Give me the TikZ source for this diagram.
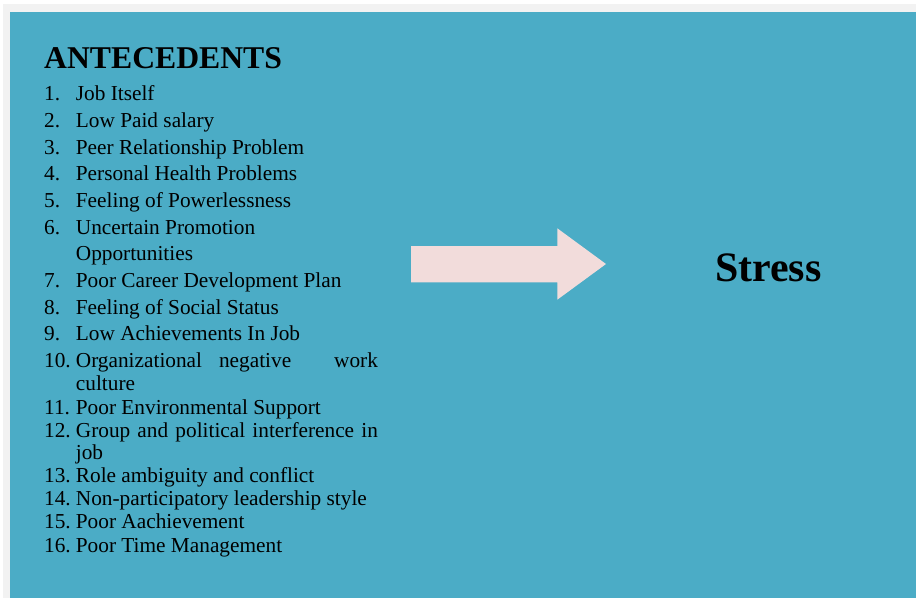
\documentclass[tikz,border=0pt]{standalone}
\usepackage{fontspec}
\setmainfont{Liberation Serif}
\definecolor{panelgray}{HTML}{F2F2F2}
\definecolor{teal}{HTML}{4BACC6}
\definecolor{arrowpink}{HTML}{F2DCDB}

\begin{document}
\begin{tikzpicture}[x=1pt, y=-1pt, item/.style={anchor=base west, inner sep=0pt, font=\fontsize{21.3}{23}\selectfont}]
	\useasboundingbox (0,0) rectangle (916,598);
	\fill[white] (0,0) rectangle (916,598);
	\fill[panelgray] (3,4) rectangle (916,598);
	\fill[teal] (10,12) rectangle (916,598);
	\begin{scope}[yshift=-1.5pt]
	% heading
	\node[anchor=base west, inner sep=0pt, font=\fontsize{31.7}{34}\selectfont\bfseries] (head) at (44,66.7) {ANTECEDENTS};
	% numbered list
	\node[item] (n1) at (44,99.3) {1.};
	\node[item] (t1) at (75.7,99.3) {Job Itself};
	\node[item] (n2) at (44,126) {2.};
	\node[item] (t2) at (75.7,126) {Low Paid salary};
	\node[item] (n3) at (44,152.7) {3.};
	\node[item] (t3) at (75.7,152.7) {Peer Relationship Problem};
	\node[item] (n4) at (44,179.3) {4.};
	\node[item] (t4) at (75.7,179.3) {Personal Health Problems};
	\node[item] (n5) at (44,206) {5.};
	\node[item] (t5) at (75.7,206) {Feeling of Powerlessness};
	\node[item] (n6) at (44,232.7) {6.};
	\node[item] (t6) at (75.7,232.7) {Uncertain Promotion};
	\node[item] (t6b) at (75.7,259.3) {Opportunities};
	\node[item] (n7) at (44,286) {7.};
	\node[item] (t7) at (75.7,286) {Poor Career Development Plan};
	\node[item] (n8) at (44,312.7) {8.};
	\node[item] (t8) at (75.7,312.7) {Feeling of Social Status};
	\node[item] (n9) at (44,339.3) {9.};
	\node[item] (t9) at (75.7,339.3) {Low Achievements In Job};
	\node[item] (n10) at (44,366) {10.};
	\node[item] (t10) at (75.7,366) {\makebox[302pt][l]{Organizational\hspace{17pt}negative\hfill work}};
	\node[item] (t10b) at (75.7,389.3) {culture};
	\node[item] (n11) at (44,412.7) {11.};
	\node[item] (t11) at (75.7,412.7) {Poor Environmental Support};
	\node[item] (n12) at (44,436) {12.};
	\node[item] (t12) at (75.7,436) {\makebox[302pt][s]{Group and political interference in}};
	\node[item] (t12b) at (75.7,458) {job};
	\node[item] (n13) at (44,480.7) {13.};
	\node[item] (t13) at (75.7,480.7) {Role ambiguity and conflict};
	\node[item] (n14) at (44,504) {14.};
	\node[item] (t14) at (75.7,504) {Non-participatory leadership style};
	\node[item] (n15) at (44,527.3) {15.};
	\node[item] (t15) at (75.7,527.3) {Poor Aachievement};
	\node[item] (n16) at (44,550.7) {16.};
	\node[item] (t16) at (75.7,550.7) {Poor Time Management};
	\end{scope}
	% block arrow
	\fill[arrowpink] (411,246) -- (557.3,246) -- (557.3,228.3) -- (606,264) -- (557.3,299.7) -- (557.3,282.3) -- (411,282.3) -- cycle;
	\node[anchor=base west, inner sep=0pt, font=\fontsize{41.9}{44}\selectfont\bfseries] (stress) at (715,281.5) {Stress};
\end{tikzpicture}
\end{document}
